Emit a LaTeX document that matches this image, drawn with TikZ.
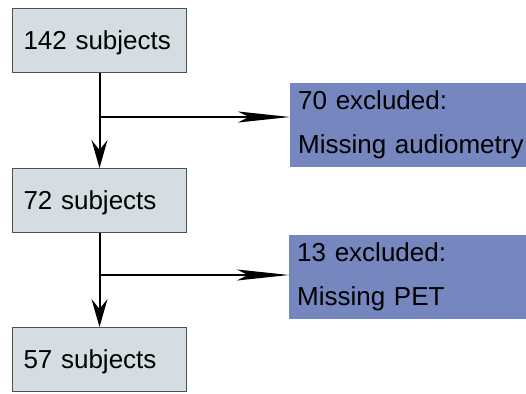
\documentclass[tikz,border=0pt]{standalone}
\usepackage{fontspec}
\setmainfont{Liberation Sans}
\usetikzlibrary{arrows.meta}
\definecolor{boxgray}{HTML}{D4DEE2}
\definecolor{boxblue}{HTML}{7686BE}
\definecolor{edgegray}{HTML}{505050}
\begin{document}
\begin{tikzpicture}[x=1pt,y=-1pt,
  subjbox/.style={draw=edgegray,line width=1pt,fill=boxgray,minimum width=174pt,minimum height=64pt,
    inner xsep=11pt,text width=152pt,align=left,text height=18pt,text depth=0pt,
    anchor=north west,font=\fontsize{26}{30}\selectfont},
  exclbox/.style={fill=boxblue,minimum width=244pt,minimum height=84pt,inner xsep=8pt,
    text width=228pt,align=left,anchor=north west,font=\fontsize{26}{44}\selectfont},
  vline/.style={line width=2pt,-{Stealth[length=28pt,width=16pt,inset=10pt]}},
  hline/.style={line width=1.6pt,-{Stealth[length=52pt,width=11pt,inset=11pt]}}]
\useasboundingbox (0,0) rectangle (526,393);
\node[subjbox] (b1) at (12,8) {142 subjects};
\node[subjbox] (b2) at (12,168) {72 subjects};
\node[subjbox] (b3) at (12,327) {57 subjects};
\node[exclbox] (e1) at (290,83) {70 excluded:\\\mbox{Missing audiometry}};
\node[exclbox] (e2) at (289,235) {13 excluded:\\Missing PET};
\coordinate (j1) at (b1.south |- 0,117);
\coordinate (j2) at (b2.south |- 0,275);
\draw[vline] (b1) -- (b2);
\draw[vline] (b2) -- (b3);
\draw[hline] (j1) -- (j1 -| e1.west);
\draw[hline] (j2) -- (j2 -| e2.west);
\end{tikzpicture}
\end{document}
